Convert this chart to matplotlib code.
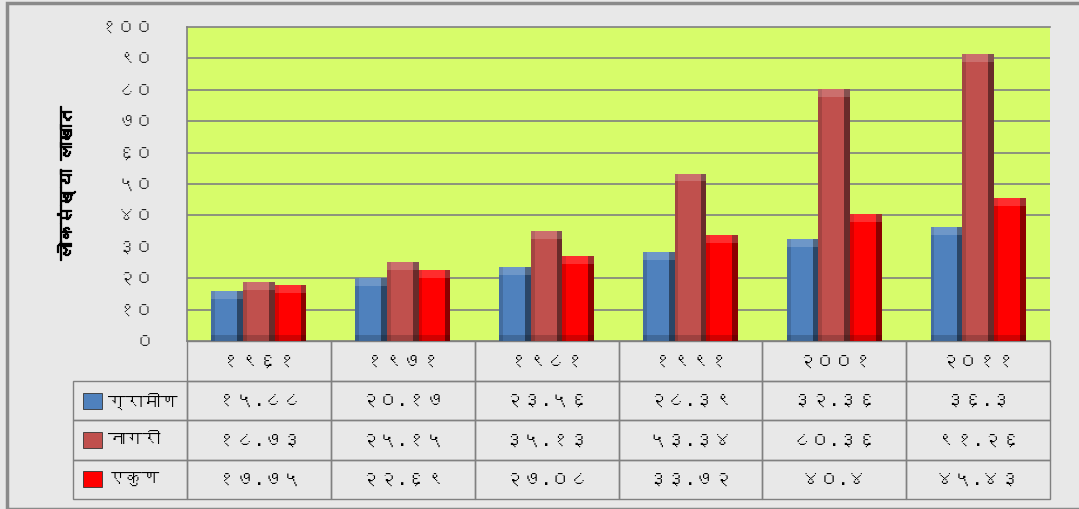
import matplotlib
matplotlib.use('Agg')
import matplotlib.pyplot as plt
import matplotlib.patheffects as pe
import numpy as np
from matplotlib import font_manager
from matplotlib.ft2font import FT2Font
from matplotlib.table import Table
from matplotlib.patches import Rectangle

# data
years = ['1961', '1971', '1981', '1991', '2001', '2011']
series = ['ग्रामीण', 'नागरी', 'एकुण']
gramin = [15.88, 20.17, 23.56, 28.39, 32.36, 36.3]
nagari = [18.73, 25.15, 35.13, 53.34, 80.36, 91.26]
ekun = [17.75, 22.69, 27.08, 33.72, 40.4, 45.43]
ylabel = 'लोकसंख्या लाखात'
colors = ['#4f81bd', '#c0504d', '#ff0000']


def find_deva():
    for f in font_manager.fontManager.ttflist:
        try:
            if 0x0917 in FT2Font(f.fname).get_charmap():
                return f.name
        except Exception:
            pass
    return None


deva = find_deva()
fams = [deva, 'DejaVu Sans'] if deva else ['DejaVu Sans']
plt.rcParams['font.family'] = fams

DIG = str.maketrans('0123456789', '०१२३४५६७८९')


def dv(s):
    return str(s).translate(DIG)


fig = plt.figure(figsize=(10.79, 5.09), dpi=100)
fig.patch.set_facecolor('#e8e8e8')
fig.patches.append(Rectangle((7 / 1079, 0), 1.0, 1 - 3 / 509, transform=fig.transFigure,
                             fill=False, edgecolor='#8a8a8a', lw=2.5, zorder=0))

ax = fig.add_axes([187 / 1079, 1 - 341 / 509, 863 / 1079, 314 / 509])
ax.set_facecolor('#d7fc6a')

x = np.arange(len(years))
w = 0.22
for i, vals in enumerate([gramin, nagari, ekun]):
    xs = x + (i - 1) * w
    ax.bar(xs, vals, w, color=colors[i], edgecolor='none', zorder=3)
    # bevel shading
    ax.bar(xs + w * 0.41, vals, w * 0.18, color='black', alpha=0.45, edgecolor='none', zorder=4)
    ax.bar(xs - w * 0.44, vals, w * 0.12, color='black', alpha=0.15, edgecolor='none', zorder=4)
    ax.bar(xs, [2.5] * len(vals), w, bottom=np.array(vals) - 2.5, color='white', alpha=0.18,
           edgecolor='none', zorder=4)
    ax.bar(xs, [2.0] * len(vals), w, color='black', alpha=0.18, edgecolor='none', zorder=4)

ax.set_xlim(-0.5, len(years) - 0.5)
ax.set_ylim(0, 100)
yt = list(range(0, 101, 10))
ax.set_yticks(yt)
ax.set_yticklabels([dv(t) for t in yt], fontsize=13, color='#222222')
ax.tick_params(axis='y', length=0, pad=24)
ax.set_xticks([])
for t in yt[1:-1]:
    if t != 30:
        ax.axhline(t, color='#808080', lw=1.2, zorder=1)
for s in ['left', 'top', 'bottom']:
    ax.spines[s].set_color('#808080')
    ax.spines[s].set_linewidth(1.2)
ax.spines['right'].set_visible(False)

fig.text(65 / 1079, 1 - 183 / 509, ylabel, rotation=90, ha='center', va='center',
         fontsize=13, fontweight='bold', color='black',
         path_effects=[pe.withStroke(linewidth=0.9, foreground='black')])

# data table under the plot
lab_w = 114 / 863
tab = Table(ax, bbox=[0, -158 / 314, 1, 158 / 314])
rh = 1.0
for j, y in enumerate(years):
    c = tab.add_cell(0, j, width=1 / 6, height=rh, text=dv(y), loc='center', facecolor='none')
    c.set_edgecolor('#808080')
for i, (name, vals) in enumerate(zip(series, [gramin, nagari, ekun])):
    c = tab.add_cell(i + 1, -1, width=lab_w, height=rh, text='', loc='left', facecolor='none')
    c.set_edgecolor('#808080')
    for j, v in enumerate(vals):
        c = tab.add_cell(i + 1, j, width=1 / 6, height=rh, text=dv(f'{v:g}'), loc='center',
                         facecolor='none')
        c.set_edgecolor('#808080')
tab.auto_set_font_size(False)
tab.set_fontsize(13.5)
ax.add_table(tab)

# legend keys and series names in the table
for i, name in enumerate(series):
    yc = 1 - (401 + i * 39) / 509
    fig.patches.append(Rectangle((83 / 1079, yc - 8 / 509), 19 / 1079, 16 / 509,
                                 transform=fig.transFigure, facecolor=colors[i],
                                 edgecolor='#333333', lw=0.6, zorder=5))
    fig.text(108 / 1079, yc, name, ha='left', va='center', fontsize=12.5, color='black')

fig.savefig('out.png', dpi=100, facecolor=fig.get_facecolor())
